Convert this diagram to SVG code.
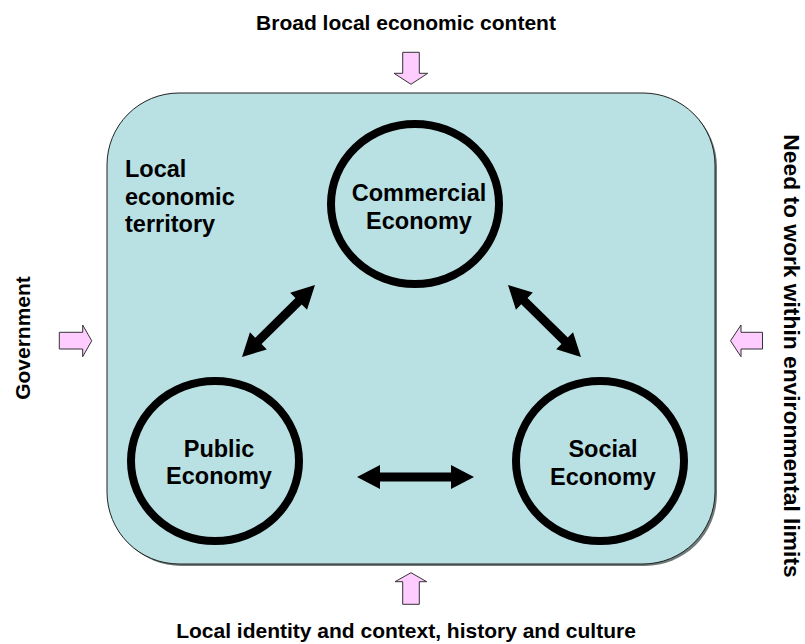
<svg xmlns="http://www.w3.org/2000/svg" width="805" height="644" viewBox="0 0 805 644">
  <style>
    .lbl { font-family: "Liberation Sans", Arial, sans-serif; font-weight: bold; fill: #000; }
    .outer { font-size: 21px; }
    .node { font-size: 23.5px; text-anchor: middle; }
    .ring { fill: none; stroke: #000; stroke-width: 8; }
    .push { fill: #ffccff; stroke: #333; stroke-width: 1; }
    .link { fill: #000; stroke: none; }
  </style>

  <!-- territory panel with a soft drop edge -->
  <g id="territory">
    <rect x="109" y="95" width="608" height="471" rx="72" ry="72" fill="#6f7a7a"/>
    <rect x="107" y="93" width="608" height="471" rx="72" ry="72" fill="#b9e0e3" stroke="#222" stroke-width="1"/>
    <text class="lbl" x="125" y="177" font-size="23.5px">Local</text>
    <text class="lbl" x="125" y="205" font-size="23.5px">economic</text>
    <text class="lbl" x="125" y="232" font-size="23.5px">territory</text>
  </g>

  <g id="commercial">
    <ellipse class="ring" cx="415" cy="204" rx="84" ry="80"/>
    <text class="lbl node" x="419" y="201">Commercial</text>
    <text class="lbl node" x="419" y="229">Economy</text>
  </g>

  <g id="public">
    <ellipse class="ring" cx="215" cy="461" rx="84" ry="80"/>
    <text class="lbl node" x="219" y="457">Public</text>
    <text class="lbl node" x="219" y="484">Economy</text>
  </g>

  <g id="social">
    <ellipse class="ring" cx="600" cy="461" rx="84" ry="80"/>
    <text class="lbl node" x="603" y="457">Social</text>
    <text class="lbl node" x="603" y="485">Economy</text>
  </g>

  <!-- two-way links between the three economies -->
  <g id="connectors">
    <polygon class="link" transform="translate(242,357) rotate(-44.6)"
      points="0,0 23,-12 23,-4.5 79.5,-4.5 79.5,-12 102.5,0 79.5,12 79.5,4.5 23,4.5 23,12"/>
    <polygon class="link" transform="translate(508,285) rotate(44.6)"
      points="0,0 23,-12 23,-4.5 79.5,-4.5 79.5,-12 102.5,0 79.5,12 79.5,4.5 23,4.5 23,12"/>
    <polygon class="link" transform="translate(357,477)"
      points="0,0 23,-12 23,-4.5 94,-4.5 94,-12 117,0 94,12 94,4.5 23,4.5 23,12"/>
  </g>

  <!-- outside influences -->
  <g id="broad-context">
    <text class="lbl outer" x="406" y="30" text-anchor="middle">Broad local economic content</text>
    <polygon class="push" points="402.7,52.3 419.3,52.3 419.3,73.3 427.7,73.3 411,84.3 394,73.3 402.7,73.3"/>
  </g>

  <g id="government">
    <text class="lbl outer" transform="translate(30,338) rotate(-90)" text-anchor="middle">Government</text>
    <polygon class="push" points="59.3,332.3 82.7,332.3 82.7,325 91.7,340.8 82.7,356.7 82.7,349 59.3,349"/>
  </g>

  <g id="environment">
    <text class="lbl" transform="translate(784,356) rotate(90)" text-anchor="middle" font-size="22.8px">Need to work within environmental limits</text>
    <polygon class="push" points="762.5,332.3 741,332.3 741,325 730.5,340.8 741,356.7 741,349 762.5,349"/>
  </g>

  <g id="identity">
    <polygon class="push" points="402.7,604.3 419.3,604.3 419.3,581.7 426.7,581.7 411,572.7 395,581.7 402.7,581.7"/>
    <text class="lbl outer" x="406" y="638" text-anchor="middle">Local identity and context, history and culture</text>
  </g>
</svg>
